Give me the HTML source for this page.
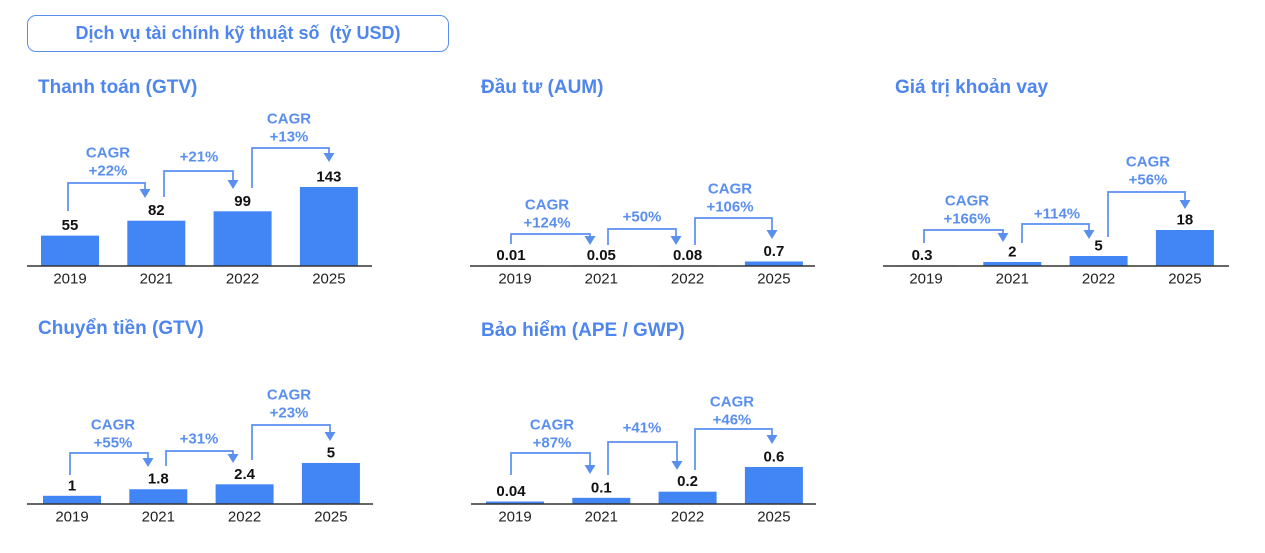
<!DOCTYPE html>
<html><head><meta charset="utf-8">
<style>
html,body{margin:0;padding:0;background:#fff;}
body{width:1265px;height:553px;position:relative;overflow:hidden;font-family:"Liberation Sans","Noto Sans CJK SC",sans-serif;}
#hdr{position:absolute;left:27px;top:15px;width:422px;height:37px;border:1.5px solid #5b8def;border-radius:9px;box-sizing:border-box;color:#4f86ee;font-weight:bold;font-size:18px;line-height:35px;text-align:center;}
.title{position:absolute;color:#4f86ee;font-weight:bold;font-size:19px;}
svg{position:absolute;left:0;top:0;}
</style></head><body>
<div id="hdr">Dịch vụ tài chính kỹ thuật số&nbsp; (tỷ USD)</div>
<div class="title" style="left:38px;top:77px">Thanh toán (GTV)</div>
<div class="title" style="left:481px;top:77px">Đầu tư (AUM)</div>
<div class="title" style="left:895px;top:77px">Giá trị khoản vay</div>
<div class="title" style="left:38px;top:318px">Chuyển tiền (GTV)</div>
<div class="title" style="left:481px;top:320px">Bảo hiểm (APE / GWP)</div>
<svg id="svg" width="1265" height="553"></svg>
<script>
const years = ["2019","2021","2022","2025"];
const payValues = [55,82,99,143];
const payLabels = ["55","82","99","143"];
const payGrowth = [["CAGR","+22%"],["+21%"],["CAGR","+13%"]];
const invValues = [0.01,0.05,0.08,0.7];
const invLabels = ["0.01","0.05","0.08","0.7"];
const invGrowth = [["CAGR","+124%"],["+50%"],["CAGR","+106%"]];
const loanValues = [0.3,2,5,18];
const loanLabels = ["0.3","2","5","18"];
const loanGrowth = [["CAGR","+166%"],["+114%"],["CAGR","+56%"]];
const remValues = [1,1.8,2.4,5];
const remLabels = ["1","1.8","2.4","5"];
const remGrowth = [["CAGR","+55%"],["+31%"],["CAGR","+23%"]];
const insValues = [0.04,0.1,0.2,0.6];
const insLabels = ["0.04","0.1","0.2","0.6"];
const insGrowth = [["CAGR","+87%"],["+41%"],["CAGR","+46%"]];

const NS="http://www.w3.org/2000/svg";
const svg=document.getElementById('svg');
function mk(tag,attrs){const e=document.createElementNS(NS,tag);for(const k in attrs)e.setAttribute(k,attrs[k]);svg.appendChild(e);return e;}
function txt(x,y,s,size,color,weight){const t=mk('text',{x:x,y:y,'text-anchor':'middle','dominant-baseline':'central','font-size':size,fill:color,'font-weight':weight,'font-family':'Liberation Sans, sans-serif'});t.textContent=s;return t;}

const charts=[
 {key:'pay',vals:payValues,labs:payLabels,gr:payGrowth,ax0:27,ax1:372,base:266,bx0:41,maxH:79,
  br:[[68,211,183,145,198,108,153],[164,197,171,233,189,199,157],[252,188,148,329,162,289,119]]},
 {key:'inv',vals:invValues,labs:invLabels,gr:invGrowth,ax0:470,ax1:815,base:266,bx0:486,maxH:4.5,
  br:[[511,244,234,590,245,547,205],[608,245,229,676,245,642,217],[695,245,218,772,239,730,189]]},
 {key:'loan',vals:loanValues,labs:loanLabels,gr:loanGrowth,ax0:883,ax1:1229,base:266,bx0:897,maxH:36,
  br:[[924,243,230,1003,242,967,201],[1022,243,224,1089,239,1057,214],[1108,237,192,1185,209,1148,162]]},
 {key:'rem',vals:remValues,labs:remLabels,gr:remGrowth,ax0:27,ax1:373,base:504,bx0:43,maxH:41,
  br:[[70,475,453,148,467,113,425],[166,466,451,233,463,199,439],[252,460,425,330,441,289,395]]},
 {key:'ins',vals:insValues,labs:insLabels,gr:insGrowth,ax0:471,ax1:816,base:504,bx0:486,maxH:37,
  br:[[511,475,453,590,474,552,425],[608,475,442,677,470,642,428],[695,470,429,772,444,732,402]]}
];
const blue='#4285F4', lblue='#5a8ff0';
charts.forEach(c=>{
  const mx=Math.max(...c.vals);
  const yScale=v=>c.maxH*v/mx;
  const xPos=i=>c.bx0+i*86.3;
  c.vals.forEach((v,i)=>{
    const h=Math.max(yScale(v),0.6);
    const r=mk('rect',{x:xPos(i),y:c.base-h,width:58,height:h,fill:blue});
    
    
    const vt=txt(xPos(i)+29,c.base-h-10,c.labs[i],15,'#111','bold');
    
    
    if(i===0 && c.key!=='pay' && c.key!=='rem'){vt.setAttribute('x',xPos(i)+25);}
    const yt=txt(xPos(i)+29,c.base+13,years[i],15,'#222','normal');
    
    
  });
  const ax=mk('line',{x1:c.ax0,x2:c.ax1,y1:c.base,y2:c.base,stroke:'#333','stroke-width':1.5});
  
  
  c.br.forEach((b,j)=>{
    const [x1,y1,yt,x2,tip,lx,ly]=b;
    const p=mk('path',{d:`M${x1},${y1}V${yt}H${x2}V${tip-7}`,fill:'none',stroke:lblue,'stroke-width':1.7});
    
    
    const a=mk('path',{d:`M${x2-5.5},${tip-9}L${x2+5.5},${tip-9}L${x2},${tip}Z`,fill:lblue});
    
    
    c.gr[j].forEach((s,k)=>{
      const t=txt(lx,ly+k*18,s,15,lblue,'bold');
      
      
    });
  });
});
</script>
</body></html>
